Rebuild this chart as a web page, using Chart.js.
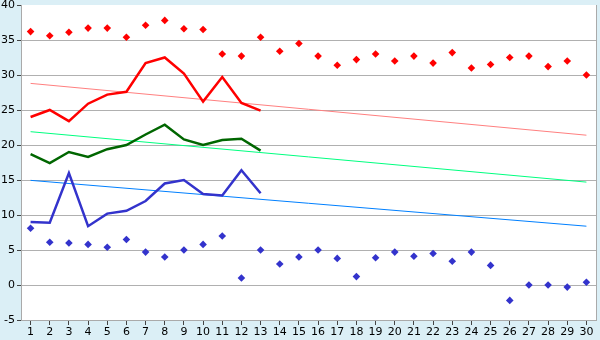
<!DOCTYPE html>
<html>
<head>
<meta charset="utf-8">
<script src="https://cdn.jsdelivr.net/npm/chart.js@4/dist/chart.umd.min.js"></script>
<style>
  body { margin: 0; background: #dbeff6; }
  canvas { display: block; }
</style>
</head>
<body>
<canvas id="chart" width="600" height="340"></canvas>
<script>
const days = ['1','2','3','4','5','6','7','8','9','10','11','12','13','14','15',
  '16','17','18','19','20','21','22','23','24','25','26','27','28','29','30'];

const maxPoints = [36.2, 35.6, 36.1, 36.7, 36.7, 35.4, 37.1, 37.8, 36.6, 36.5, 33.0, 32.7, 35.4, 33.4, 34.5,
  32.7, 31.4, 32.2, 33.0, 32.0, 32.7, 31.7, 33.2, 31.0, 31.5, 32.5, 32.7, 31.2, 32.0, 30.0];
const minPoints = [8.1, 6.1, 6.0, 5.8, 5.4, 6.5, 4.7, 4.0, 5.0, 5.8, 7.0, 1.0, 5.0, 3.0, 4.0,
  5.0, 3.8, 1.2, 3.9, 4.7, 4.1, 4.5, 3.4, 4.7, 2.8, -2.2, 0.0, 0.0, -0.3, 0.4];

const redLine   = [24.0, 25.0, 23.4, 25.9, 27.2, 27.6, 31.7, 32.5, 30.2, 26.2, 29.7, 26.0, 24.9];
const greenLine = [18.7, 17.4, 19.0, 18.3, 19.4, 20.0, 21.5, 22.9, 20.8, 20.0, 20.7, 20.9, 19.2];
const blueLine  = [9.0, 8.9, 16.0, 8.4, 10.2, 10.6, 12.0, 14.5, 15.0, 13.0, 12.8, 16.4, 13.1];

// trend lines: value at day 1 and day 30
const redTrend   = [28.8, 21.4];
const greenTrend = [21.9, 14.7];
const blueTrend  = [14.95, 8.4];

const yTicks = [-5, 0, 5, 10, 15, 20, 25, 30, 35, 40];

function trendData(ends) {
  const d = days.map(() => null);
  d[0] = ends[0];
  d[days.length - 1] = ends[1];
  return d;
}

const font = { family: 'DejaVu Sans', size: 11 };

const background = {
  id: 'background',
  beforeDraw(chart) {
    const { ctx, chartArea: a } = chart;
    ctx.save();
    ctx.fillStyle = '#dbeff6';
    ctx.fillRect(0, 0, chart.width, chart.height);
    ctx.fillStyle = '#ffffff';
    ctx.fillRect(a.left, a.top, a.right - a.left, a.bottom - a.top);
    ctx.restore();
  },
  afterDraw(chart) {
    const { ctx, chartArea: a } = chart;
    ctx.save();
    ctx.strokeStyle = '#aaaaaa';
    ctx.lineWidth = 1;
    ctx.beginPath();
    ctx.moveTo(a.right + 0.5, a.top);
    ctx.lineTo(a.right + 0.5, a.bottom);
    ctx.stroke();
    ctx.restore();
  }
};

new Chart(document.getElementById('chart'), {
  type: 'line',
  data: {
    labels: days,
    datasets: [
      {
        data: maxPoints, showLine: false,
        pointStyle: 'rectRot', pointRadius: 3.8, pointBorderWidth: 0,
        pointBackgroundColor: '#ff0000', borderColor: '#ff0000'
      },
      {
        data: minPoints, showLine: false,
        pointStyle: 'rectRot', pointRadius: 3.8, pointBorderWidth: 0,
        pointBackgroundColor: '#3333cc', borderColor: '#3333cc'
      },
      { data: redLine, borderColor: '#ff0000', borderWidth: 2.5, pointRadius: 0, tension: 0 },
      { data: greenLine, borderColor: '#006600', borderWidth: 2.5, pointRadius: 0, tension: 0 },
      { data: blueLine, borderColor: '#3333cc', borderWidth: 2.5, pointRadius: 0, tension: 0 },
      { data: trendData(redTrend), borderColor: '#ff8080', borderWidth: 1, pointRadius: 0, spanGaps: true },
      { data: trendData(greenTrend), borderColor: '#00ff80', borderWidth: 1, pointRadius: 0, spanGaps: true },
      { data: trendData(blueTrend), borderColor: '#0080ff', borderWidth: 1, pointRadius: 0, spanGaps: true }
    ]
  },
  options: {
    responsive: false,
    animation: false,
    layout: { padding: { top: 5, right: 4, left: 1, bottom: 0 } },
    plugins: { legend: { display: false }, tooltip: { enabled: false } },
    scales: {
      x: {
        offset: true,
        grid: { drawOnChartArea: false, tickLength: 5, tickColor: '#444' },
        border: { color: '#aaaaaa' },
        ticks: { font, color: '#000', padding: 1, maxRotation: 0, autoSkip: false },
        afterFit(scale) { scale.height = 20; }
      },
      y: {
        min: -5, max: 40,
        afterBuildTicks(scale) { scale.ticks = yTicks.map(v => ({ value: v })); },
        grid: {
          color: ctx => ctx.tick && ctx.tick.value === 40 ? 'rgba(0,0,0,0)' : '#b0b0b0',
          tickLength: 4, tickColor: '#444'
        },
        border: { color: '#aaaaaa' },
        ticks: { font, color: '#000', padding: 2 },
        afterFit(scale) { scale.width = 20; scale.paddingTop = 0; scale.paddingBottom = 0; }
      }
    }
  },
  plugins: [background]
});
</script>
</body>
</html>
